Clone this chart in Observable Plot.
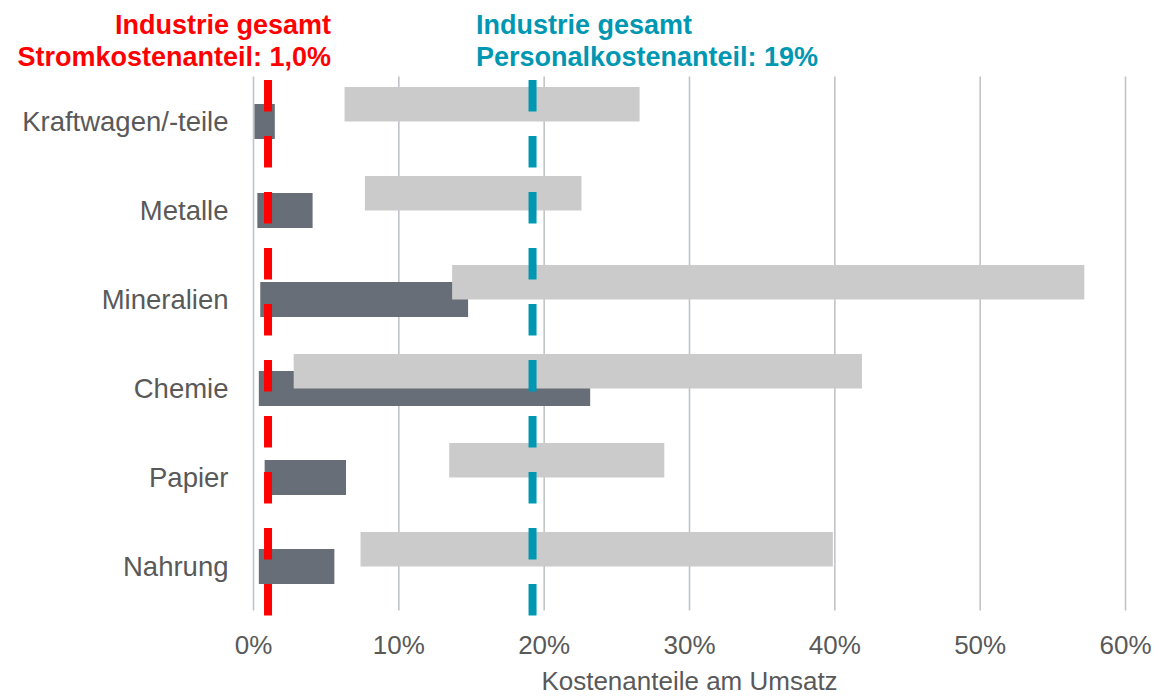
<!DOCTYPE html>
<html>
<head>
<meta charset="utf-8">
<script src="https://cdn.jsdelivr.net/npm/d3@7"></script>
<script src="https://cdn.jsdelivr.net/npm/@observablehq/plot@0.6"></script>
<style>
  html, body { margin: 0; padding: 0; background: #fff; }
  #wrap { position: relative; width: 1159px; height: 697px; overflow: hidden; font-family: "Liberation Sans", Arial, sans-serif; }
  #header { position: relative; height: 72px; }
  .note { position: absolute; top: 9px; font-weight: bold; font-size: 27px; line-height: 32px; white-space: nowrap; }
  #noteStrom { right: 828px; text-align: right; color: #ff0000; }
  #notePersonal { left: 476px; text-align: left; color: #0097b2; }
</style>
</head>
<body>
<div id="wrap">
  <div id="header">
    <div class="note" id="noteStrom"></div>
    <div class="note" id="notePersonal"></div>
  </div>
  <div id="chart"></div>
</div>
<script>
// ---- data ----
const categories = ["Kraftwagen/-teile", "Metalle", "Mineralien", "Chemie", "Papier", "Nahrung"];
const stromMin    = [0.1, 0.3, 0.5, 0.4, 0.8, 0.4];
const stromMax    = [1.5, 4.1, 14.8, 23.2, 6.4, 5.6];
const personalMin = [6.3, 7.7, 13.7, 2.8, 13.5, 7.4];
const personalMax = [26.6, 22.6, 57.2, 41.9, 28.3, 39.9];
const industryStrom = 1.0;
const industryPersonal = 19.2;
const xTicks = [0, 10, 20, 30, 40, 50, 60];
const axisTitle = "Kostenanteile am Umsatz";
const noteStromLines = ["Industrie gesamt", "Stromkostenanteil: 1,0%"];
const notePersonalLines = ["Industrie gesamt", "Personalkostenanteil: 19%"];

const rows = categories.map((c, i) => ({
  category: c,
  stromMin: stromMin[i], stromMax: stromMax[i],
  personalMin: personalMin[i], personalMax: personalMax[i]
}));

document.getElementById("noteStrom").innerHTML = noteStromLines.join("<br>");
document.getElementById("notePersonal").innerHTML = notePersonalLines.join("<br>");

const chart = Plot.plot({
  width: 1159,
  height: 625,
  marginTop: 4.5,
  marginBottom: 86.5,
  marginLeft: 253,
  marginRight: 34,
  style: { fontFamily: "'Liberation Sans', Arial, sans-serif", color: "#595959", background: "white", overflow: "visible" },
  x: { domain: [0, 60] },
  y: { domain: categories, padding: 0 },
  marks: [
    Plot.gridX(xTicks, { stroke: "#c0c4c8", strokeOpacity: 1, strokeWidth: 1.6 }),
    Plot.axisX(xTicks, {
      tickSize: 0, tickPadding: 25, fontSize: 26,
      tickFormat: d => d + "%",
      label: axisTitle, labelAnchor: "center", labelArrow: "none", labelOffset: 79
    }),
    Plot.axisY({ tickSize: 0, tickPadding: 25, fontSize: 27.5, label: null }),
    Plot.barX(rows, { y: "category", x1: "stromMin", x2: "stromMax", fill: "#676e77", insetTop: 27, insetBottom: 27 }),
    Plot.barX(rows, { y: "category", x1: "personalMin", x2: "personalMax", fill: "#cbcbcb", insetTop: 10, insetBottom: 44.5 }),
    Plot.ruleX([industryStrom], { stroke: "#ff0000", strokeWidth: 8, strokeDasharray: "31.5,24.5", insetTop: 3.5, insetBottom: -5.5 }),
    Plot.ruleX([industryPersonal], { stroke: "#0097b2", strokeWidth: 8, strokeDasharray: "31.5,24.5", insetTop: 3.5, insetBottom: -5.5 })
  ]
});
document.getElementById("chart").appendChild(chart);
</script>
</body>
</html>
